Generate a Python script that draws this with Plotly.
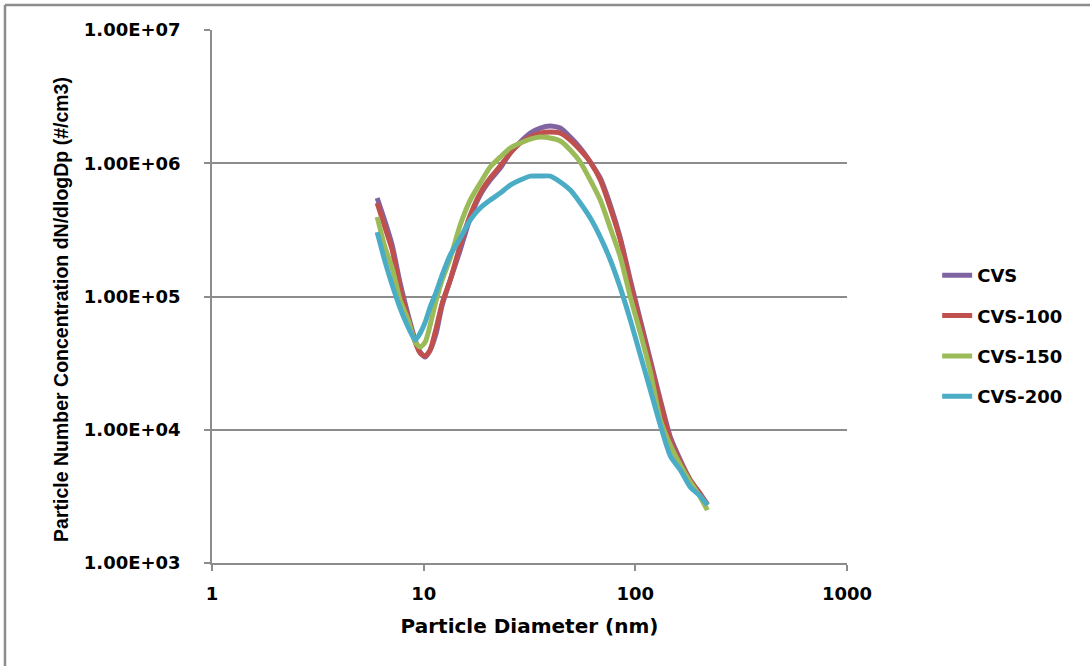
import plotly.graph_objects as go

# Particle diameter bins (nm)
diameter_nm = [6.03, 6.58, 7.10, 7.74, 8.45, 9.12, 9.63, 10.17, 10.73, 11.46, 12.23, 13.35,
               14.88, 16.59, 18.50, 20.62, 23.00, 25.64, 28.60, 31.89, 35.55, 39.64, 44.20,
               49.28, 54.95, 61.27, 68.32, 76.17, 84.94, 94.71, 105.6, 117.8, 131.3, 146.4,
               163.3, 182.0, 202.9, 219.0]

# dN/dlogDp (#/cm3) per dilution setting
cvs = [5.48e5, 3.62e5, 2.43e5, 1.26e5, 7.25e4, 4.71e4, 3.82e4, 3.51e4, 3.96e4, 5.31e4, 8.62e4,
       1.33e5, 2.23e5, 3.88e5, 5.77e5, 7.48e5, 9.20e5, 1.193e6, 1.443e6, 1.685e6, 1.838e6,
       1.902e6, 1.838e6, 1.573e6, 1.301e6, 1.021e6, 7.74e5, 4.86e5, 2.74e5, 1.33e5, 6.65e4,
       3.33e4, 1.67e4, 8.80e3, 5.91e3, 4.18e3, 3.29e3, 2.72e3]
cvs_100 = [5.03e5, 3.26e5, 2.23e5, 1.16e5, 6.88e4, 4.55e4, 3.76e4, 3.57e4, 3.96e4, 5.79e4, 8.92e4,
           1.33e5, 2.43e5, 4.08e5, 5.97e5, 7.74e5, 9.53e5, 1.193e6, 1.418e6, 1.573e6, 1.685e6,
           1.715e6, 1.685e6, 1.494e6, 1.256e6, 1.021e6, 7.48e5, 4.61e5, 2.65e5, 1.26e5, 6.31e4,
           3.16e4, 1.61e4, 8.35e3, 5.71e3, 4.18e3, 3.29e3, 2.76e3]
cvs_150 = [3.95e5, 2.31e5, 1.63e5, 9.40e4, 6.65e4, 4.55e4, 4.17e4, 4.55e4, 6.10e4, 9.40e4, 1.33e5,
           1.94e5, 3.44e5, 5.29e5, 7.10e5, 9.37e5, 1.113e6, 1.301e6, 1.418e6, 1.519e6, 1.573e6,
           1.546e6, 1.468e6, 1.256e6, 1.021e6, 7.48e5, 5.29e5, 3.26e5, 1.98e5, 9.90e4, 5.31e4,
           2.71e4, 1.18e4, 7.66e3, 5.42e3, 4.04e3, 3.12e3, 2.49e3]
cvs_200 = [3.04e5, 1.81e5, 1.22e5, 8.19e4, 5.89e4, 4.71e4, 5.31e4, 6.42e4, 8.33e4, 1.08e5, 1.45e5,
           2.05e5, 2.74e5, 3.75e5, 4.61e5, 5.29e5, 5.97e5, 6.86e5, 7.48e5, 8.01e5, 8.01e5,
           8.01e5, 7.23e5, 6.29e5, 5.03e5, 3.88e5, 2.79e5, 1.88e5, 1.16e5, 6.65e4, 3.63e4,
           1.98e4, 1.08e4, 6.34e3, 4.98e3, 3.71e3, 3.17e3, 2.72e3]

series_names = ["CVS", "CVS-100", "CVS-150", "CVS-200"]
series_values = [cvs, cvs_100, cvs_150, cvs_200]
series_colors = ["#8064A2", "#C0504D", "#9BBB59", "#4BACC6"]

x_tick_vals = [1, 10, 100, 1000]
x_tick_text = ["1", "10", "100", "1000"]
y_tick_vals = [1e3, 1e4, 1e5, 1e6, 1e7]
y_tick_text = ["1.00E+03", "1.00E+04", "1.00E+05", "1.00E+06", "1.00E+07"]

GRID = "#8C8C8C"
FONT = "DejaVu Sans"

fig = go.Figure()
for i, (name, vals, col) in enumerate(zip(series_names, series_values, series_colors)):
    fig.add_trace(go.Scatter(
        x=diameter_nm, y=vals, name=name, mode="lines",
        line=dict(color=col, width=5, shape="spline", smoothing=0.6),
        legendgroup=f"g{i}",
    ))

fig.update_layout(
    width=1090, height=666,
    margin=dict(l=212, r=243, t=30, b=103),
    paper_bgcolor="white", plot_bgcolor="white",
    font=dict(family=FONT, color="black"),
    showlegend=True,
    legend=dict(
        x=1.142, y=0.426, xanchor="left", yanchor="middle",
        font=dict(family=FONT, size=18, weight="bold", color="black"),
        tracegroupgap=14, bgcolor="rgba(0,0,0,0)",
    ),
    xaxis=dict(
        type="log", range=[0, 3],
        tickvals=x_tick_vals, ticktext=x_tick_text,
        tickfont=dict(family=FONT, size=18, weight="bold"),
        showgrid=False, zeroline=False,
        showline=True, linecolor=GRID, linewidth=1.5,
        ticks="outside", ticklen=6, tickcolor=GRID, tickwidth=1.5,
        ticklabelstandoff=8,
        title=dict(text="Particle Diameter (nm)", standoff=16,
                   font=dict(family=FONT, size=20, weight="bold")),
    ),
    yaxis=dict(
        type="log", range=[3, 7],
        tickvals=y_tick_vals, ticktext=y_tick_text,
        tickfont=dict(family=FONT, size=18, weight="bold"),
        showgrid=True, gridcolor=GRID, gridwidth=1.5,
        zeroline=False,
        showline=True, linecolor=GRID, linewidth=1.5,
        ticks="outside", ticklen=6, tickcolor=GRID, tickwidth=1.5,
        ticklabelstandoff=20,
    ),
    annotations=[
        dict(text="Particle Number Concentration dN/dlogDp (#/cm3)",
             xref="paper", yref="paper", x=-0.238, y=0.4765,
             xanchor="center", yanchor="middle", textangle=-90, showarrow=False,
             font=dict(family="Liberation Sans", size=19.5, weight="bold", color="black")),
    ],
    shapes=[
        dict(type="line", xref="paper", yref="paper", x0=-0.326, x1=-0.326, y0=-0.2, y1=1.047,
             line=dict(color=GRID, width=2.5)),
        dict(type="line", xref="paper", yref="paper", x0=-0.326, x1=1.4, y0=1.047, y1=1.047,
             line=dict(color=GRID, width=2.5)),
    ],
)

fig.write_html("out.html")
